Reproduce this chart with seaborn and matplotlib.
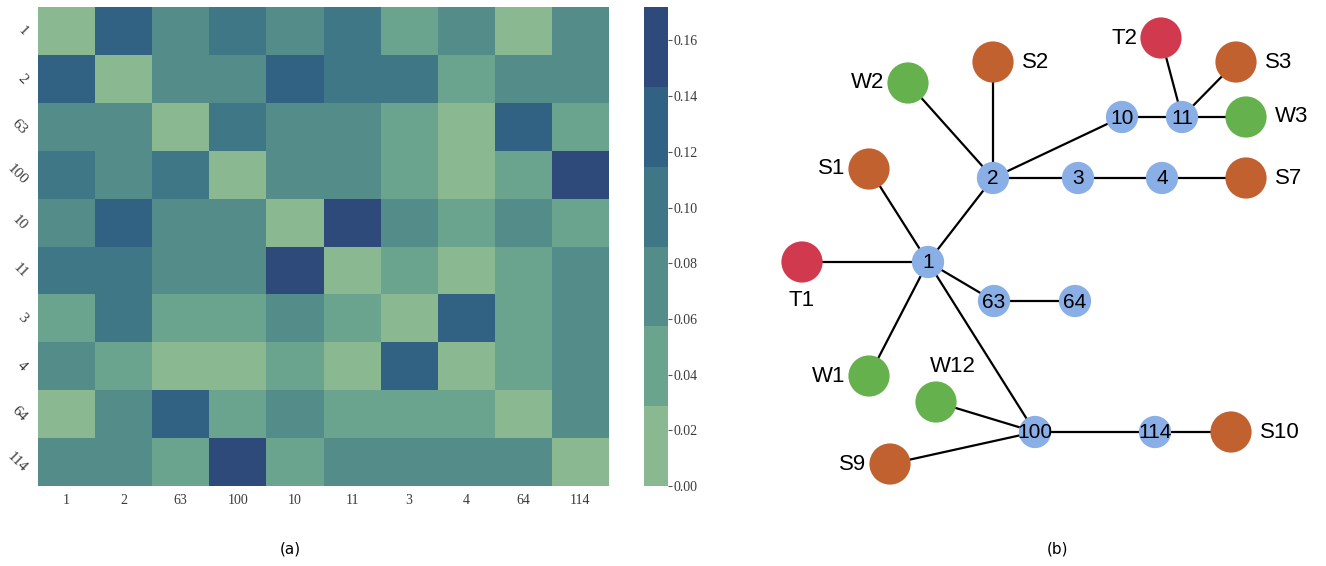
import numpy as np
import pandas as pd
import matplotlib
matplotlib.use("Agg")
import matplotlib.pyplot as plt
import seaborn as sns

# ---------------- data ----------------
labels = ["1", "2", "63", "100", "10", "11", "3", "4", "64", "114"]
row_1   = [0.000, 0.128, 0.072, 0.101, 0.074, 0.098, 0.045, 0.071, 0.018, 0.070]
row_2   = [0.128, 0.000, 0.070, 0.072, 0.130, 0.100, 0.099, 0.046, 0.069, 0.071]
row_63  = [0.072, 0.070, 0.000, 0.097, 0.073, 0.071, 0.044, 0.020, 0.126, 0.043]
row_100 = [0.101, 0.072, 0.097, 0.000, 0.069, 0.070, 0.047, 0.017, 0.045, 0.165]
row_10  = [0.074, 0.130, 0.073, 0.069, 0.000, 0.172, 0.072, 0.043, 0.070, 0.046]
row_11  = [0.098, 0.100, 0.071, 0.070, 0.172, 0.000, 0.044, 0.019, 0.041, 0.073]
row_3   = [0.045, 0.099, 0.044, 0.047, 0.072, 0.044, 0.000, 0.132, 0.042, 0.070]
row_4   = [0.071, 0.046, 0.020, 0.017, 0.043, 0.019, 0.132, 0.000, 0.045, 0.069]
row_64  = [0.018, 0.069, 0.126, 0.045, 0.070, 0.041, 0.042, 0.045, 0.000, 0.072]
row_114 = [0.070, 0.071, 0.043, 0.165, 0.046, 0.073, 0.070, 0.069, 0.072, 0.000]
colorbar_ticks = [0.00, 0.02, 0.04, 0.06, 0.08, 0.10, 0.12, 0.14, 0.16]

# network (layout coordinates)
node_names = ["1", "2", "3", "4", "10", "11", "63", "64", "100", "114",
              "T1", "T2", "S1", "S2", "S3", "S7", "S9", "S10",
              "W1", "W2", "W3", "W12"]
node_types = ["bus"] * 10 + ["T", "T"] + ["S"] * 6 + ["W"] * 4
node_x = [928, 993, 1078, 1162, 1122, 1182, 994, 1075, 1035, 1155,
          802, 1161, 869, 993, 1236, 1246, 890, 1231,
          869, 908, 1246, 936]
node_y = [262, 178, 178, 178, 117, 117, 301, 301, 432, 432,
          262, 38, 169, 62, 62, 178, 464, 432,
          376, 83, 117, 402]
edges = [("T1", "1"), ("S1", "1"), ("W1", "1"), ("1", "2"), ("1", "63"),
         ("1", "100"), ("63", "64"), ("2", "W2"), ("2", "S2"), ("2", "10"),
         ("2", "3"), ("3", "4"), ("4", "S7"), ("10", "11"), ("11", "T2"),
         ("11", "S3"), ("11", "W3"), ("100", "W12"), ("100", "S9"),
         ("100", "114"), ("114", "S10")]
label_side = {"T1": "below", "T2": "left", "S1": "left", "S2": "right",
              "S3": "right", "S7": "right", "S9": "left", "S10": "right",
              "W1": "left", "W2": "left", "W3": "right", "W12": "above"}

# ---------------- figure ----------------
sns.set_theme(style="white")
W, H = 1326, 566
fig = plt.figure(figsize=(W / 100, H / 100), dpi=100)

def fig_rect(x0, y0, x1, y1):
    return [x0 / W, 1 - y1 / H, (x1 - x0) / W, (y1 - y0) / H]

ax_h = fig.add_axes(fig_rect(38, 7, 609, 486))
ax_c = fig.add_axes(fig_rect(644, 7, 668, 486))

mat = pd.DataFrame([row_1, row_2, row_63, row_100, row_10, row_11,
                    row_3, row_4, row_64, row_114],
                   index=labels, columns=labels)
cmap = ["#89b891", "#6aa48f", "#548c8a", "#3f7787", "#316283", "#2e4a7b"]
sns.heatmap(mat, ax=ax_h, cbar_ax=ax_c, cmap=cmap, vmin=0,
            cbar_kws={"ticks": colorbar_ticks})

serif = "Liberation Serif"
tick_color = "#3a3a3a"
ax_h.tick_params(length=0, pad=6)
ax_h.set_xticklabels(labels, rotation=0, fontsize=10, family=serif, color=tick_color)
ax_h.set_yticklabels(labels, rotation=-45, fontsize=11, family=serif,
                     color=tick_color, va="center", ha="right")
ax_h.set_xlabel("")
ax_h.set_ylabel("")

ax_c.tick_params(length=3, width=0.8, color="#555555", pad=1)
ax_c.set_yticklabels([f"{t:.2f}" for t in colorbar_ticks], fontsize=10,
                     family=serif, color=tick_color)
for sp in ax_c.spines.values():
    sp.set_visible(False)

fig.text(290 / W, 1 - 549 / H, "(a)", ha="center", va="center",
         fontsize=11, family="DejaVu Sans", color="black")
fig.text(1057 / W, 1 - 549 / H, "(b)", ha="center", va="center",
         fontsize=11, family="DejaVu Sans", color="black")

# ---------------- network ----------------
ax_g = fig.add_axes(fig_rect(760, 0, 1326, 520))

nodes = pd.DataFrame({"name": node_names, "type": node_types,
                      "x": node_x, "y": node_y})
pos = {r.name: (r.x, r.y) for r in nodes.itertuples()}
for a, b in edges:
    ax_g.plot([pos[a][0], pos[b][0]], [pos[a][1], pos[b][1]],
              color="black", lw=1.6, zorder=1, solid_capstyle="butt")

palette = {"bus": "#8aaee6", "T": "#d0394e", "S": "#c0612f", "W": "#64b14d"}
sizes = {"bus": 540, "T": 880, "S": 880, "W": 880}
sns.scatterplot(data=nodes, x="x", y="y", hue="type", size="type",
                palette=palette, sizes=sizes, linewidth=0, alpha=1,
                legend=False, ax=ax_g, zorder=2)
ax_g.set_xlim(760, 1326)
ax_g.set_ylim(520, 0)
ax_g.axis("off")

sans = "Liberation Sans"
for r in nodes.itertuples():
    if r.type == "bus":
        ax_g.text(r.x, r.y + 1, r.name, ha="center", va="center",
                  fontsize=15, family=sans, color="black", zorder=3)
    else:
        side = label_side[r.name]
        if side == "left":
            ax_g.text(r.x - 24, r.y, r.name, ha="right", va="center",
                      fontsize=16, family=sans, color="black", zorder=3)
        elif side == "right":
            ax_g.text(r.x + 29, r.y, r.name, ha="left", va="center",
                      fontsize=16, family=sans, color="black", zorder=3)
        elif side == "below":
            ax_g.text(r.x, r.y + 38, r.name, ha="center", va="center",
                      fontsize=16, family=sans, color="black", zorder=3)
        else:
            ax_g.text(r.x + 17, r.y - 35, r.name, ha="center", va="center",
                      fontsize=16, family=sans, color="black", zorder=3)

fig.savefig("out.png", dpi=100)
